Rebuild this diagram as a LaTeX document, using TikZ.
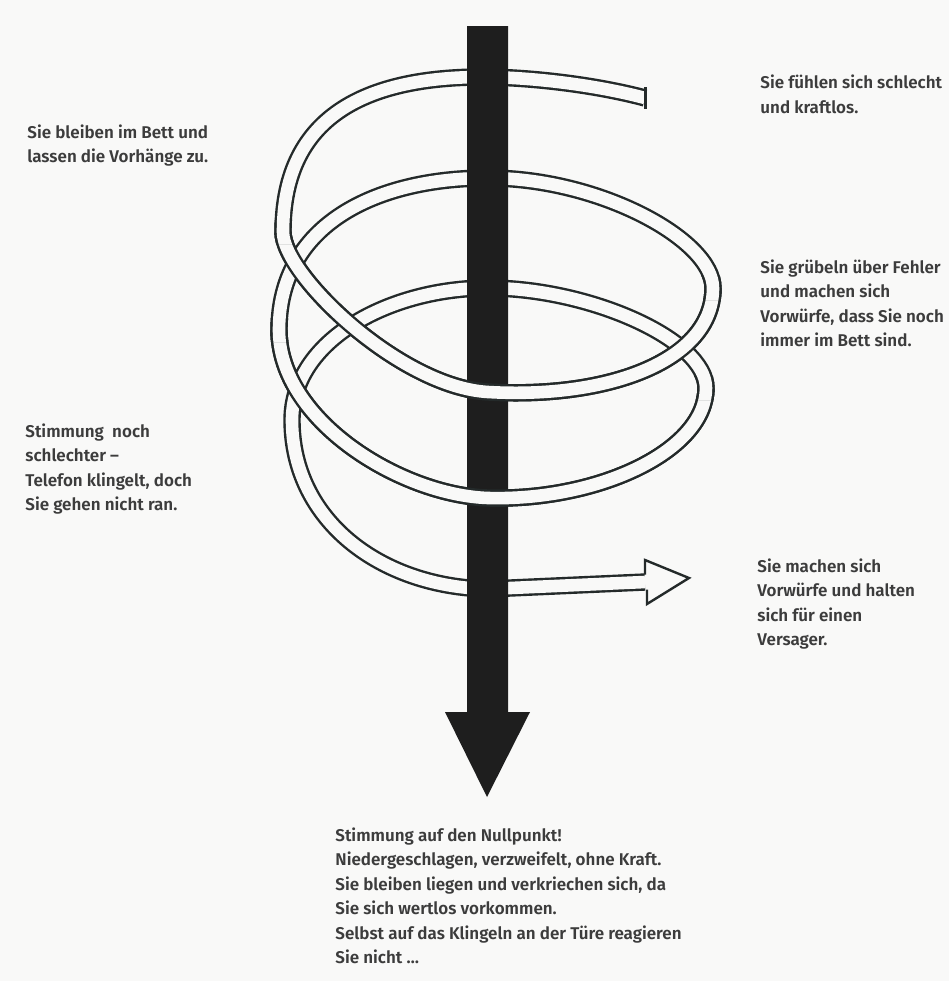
\documentclass[tikz,border=0pt]{standalone}
\usepackage{fontspec}
\setmainfont{Fira Sans}[BoldFont={Fira Sans SemiBold}]
\usepackage{xcolor}
\definecolor{paper}{RGB}{249,249,248}
\definecolor{ink}{RGB}{36,42,42}
\definecolor{barcol}{RGB}{30,30,30}
\definecolor{txtcol}{RGB}{60,60,60}
% centre line of the whole ribbon
\newcommand{\spiralpath}{(S) .. controls (600,-86) and (540,-78) .. (B1)
  .. controls (372,-76) and (283,-112) .. (L1)
  .. controls (283,-275) and (400,-387) .. (F1)
  .. controls (610,-399) and (713,-360) .. (R1)
  .. controls (713,-240) and (600,-178) .. (B2)
  .. controls (375,-178) and (279,-225) .. (L2)
  .. controls (279,-420) and (400,-495) .. (F2)
  .. controls (600,-501) and (706,-450) .. (R2)
  .. controls (706,-340) and (590,-288) .. (B3)
  .. controls (390,-288) and (292,-340) .. (L3)
  .. controls (292,-520) and (380,-587) .. (F3) -- (E)}

\begin{document}
\begin{tikzpicture}[x=0.5pt,y=0.5pt,
  ribbon/.style={draw=ink,line width=1.2pt,double=paper,double distance=6.3pt,line cap=butt},
  txt/.style={anchor=base west,inner sep=0pt,align=left,text=txtcol,font=\bfseries\fontsize{8.5}{12.25}\selectfont}]
\fill[paper] (0,0) rectangle (949,-981);
\useasboundingbox (0,0) rectangle (949,-981);
% spiral: S tail, B back crossings, F front crossings, L/R turning points
\coordinate (S) at (645,-98);
\coordinate (B1) at (488,-77);
\coordinate (L1) at (283,-232);
\coordinate (F1) at (488,-392);
\coordinate (R1) at (713,-288);
\coordinate (B2) at (488,-178);
\coordinate (L2) at (279,-330);
\coordinate (F2) at (488,-498);
\coordinate (R2) at (706,-388);
\coordinate (B3) at (488,-288);
\coordinate (L3) at (292,-420);
\coordinate (F3) at (488,-589);
\coordinate (E) at (645,-582);
\coordinate (tip) at (689,-578);
\coordinate (hup) at (645,-560);
\coordinate (hlo) at (647,-604);
\draw[ribbon] \spiralpath;
\draw[ink,line width=1.2pt,line cap=rect] (S) ++(0.5,9.5) -- ++(0,-19);
% arrow head of the ribbon
\fill[paper] (hup) -- (tip) -- (hlo) -- (E) -- cycle;
\draw[ink,line width=1.2pt,line join=miter] (E) ++(0,7.5) -- (hup) -- (tip) -- (hlo) -- ++(0,14.5);
% the black shaft
\fill[barcol] (467,-26) -- (508,-26) -- (508,-712) -- (530,-712) -- (487,-797) -- (445,-712) -- (467,-712) -- cycle;
% front halves of the turns
\draw[ribbon] (L1) .. controls (283,-275) and (400,-387) .. (F1) .. controls (610,-399) and (713,-360) .. (R1);
\draw[ribbon] (L2) .. controls (279,-420) and (400,-495) .. (F2) .. controls (600,-501) and (706,-450) .. (R2);
% mend the joints at the turning points
\begin{scope}
\clip (266,-220) rectangle (294,-244) (700,-276) rectangle (726,-300)
      (264,-318) rectangle (292,-342) (692,-376) rectangle (720,-400);
\draw[ribbon] \spiralpath;
\end{scope}
% texts (anchored at the last baseline)
\node[txt] (bett) at (27,-162.5) {Sie bleiben im Bett und\\lassen die Vorhänge zu.};
\node[txt] (kraftlos) at (760,-113) {Sie fühlen sich schlecht\\und kraftlos.};
\node[txt] (fehler) at (760,-346.5) {Sie grübeln über Fehler\\und machen sich\\Vorwürfe, dass Sie noch\\immer im Bett sind.};
\node[txt] (telefon) at (25,-510.5) {Stimmung\ \ noch\\schlechter --\\Telefon klingelt, doch\\Sie gehen nicht ran.};
\node[txt] (versager) at (757,-645.5) {Sie machen sich\\Vorwürfe und halten\\sich für einen\\Versager.};
\node[txt] (nullpunkt) at (335,-963.5) {Stimmung auf den Nullpunkt!\\Niedergeschlagen, verzweifelt, ohne Kraft.\\Sie bleiben liegen und verkriechen sich, da\\Sie sich wertlos vorkommen.\\Selbst auf das Klingeln an der Türe reagieren\\Sie nicht …};
\end{tikzpicture}
\end{document}
